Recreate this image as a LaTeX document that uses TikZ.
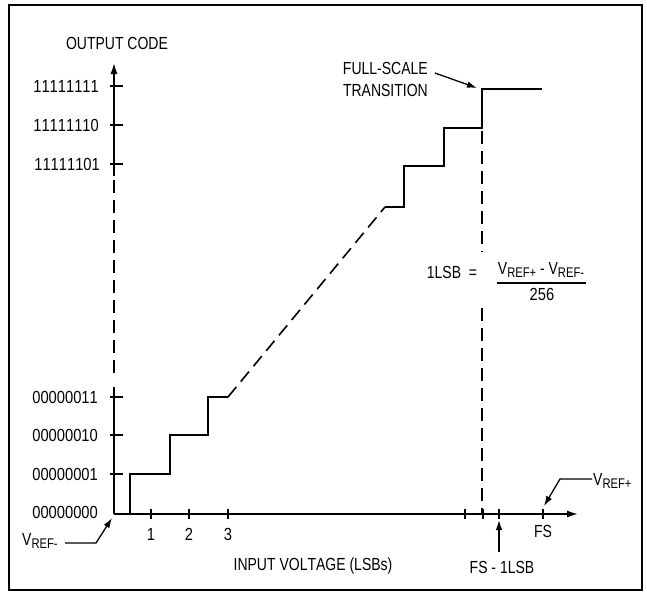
\documentclass[tikz,border=0pt]{standalone}
\usepackage{fontspec}
\setmainfont[FakeStretch=0.8,Kerning=Off]{Liberation Sans}
\newfontfamily\digfont[FakeStretch=0.84,Kerning=Off]{Liberation Sans}
\usetikzlibrary{arrows.meta}
\newcommand{\vsub}[1]{V\raisebox{-0.3ex}{\fontsize{14}{14}\selectfont REF#1}}
\begin{document}
\begin{tikzpicture}[x=1pt,y=-1pt,
  lbl/.style={inner sep=0pt, font=\fontsize{17.5}{21}\selectfont},
  dlbl/.style={inner sep=0pt, font=\digfont\fontsize{17.5}{21}\selectfont},
  ln/.style={line width=1.6pt},
  dsh/.style={line width=1.6pt, dash pattern=on 13pt off 7pt},
  tip/.style={-{Latex[length=11pt,width=7pt]}},
  arr/.style={line width=1.3pt, -{Latex[length=10pt,width=6.5pt]}}]
\useasboundingbox (0,0) rectangle (647,592);
\draw[line width=2pt] (9,5) rectangle (642,590);

% axes
\coordinate (O) at (114,514);
\coordinate (ytop) at (114,63);
\coordinate (xend) at (578,514);
\draw[ln] (O) -- (114,387);
\draw[dsh] (114,373) -- (114,175);
\draw[ln,tip] (114,176) -- (ytop);
\draw[ln,tip] (O) -- (xend);

% ticks
\foreach \y in {86,125,164,397,435,474} \draw[ln] (110,\y) -- (123,\y);
\foreach \x in {151,189,228,465,483,499,543} \draw[ln] (\x,509) -- (\x,519);

% staircase
\draw[ln] (130,514) -- (130,474) -- (170,474) -- (170,435) -- (208,435) -- (208,397) -- (228,397);
\draw[dsh] (228,397) -- (385,207);
\draw[ln] (385,207) -- (404,207) -- (404,166) -- (444,166) -- (444,128) -- (482,128) -- (482,89) -- (542,89);
\coordinate (fst) at (482,89);
\draw[dsh] (482,131) -- (482,252);
\draw[dsh] (482,308) -- (482,514);

% y labels
\node[lbl] (oc) at (117,43) {OUTPUT CODE};
\node[dlbl,anchor=east] (y8) at (99,86) {11111111};
\node[dlbl,anchor=east] (y7) at (99,125) {11111110};
\node[dlbl,anchor=east] (y6) at (100,164) {11111101};
\node[dlbl,anchor=east] (y3) at (98,397) {00000011};
\node[dlbl,anchor=east] (y2) at (98,435) {00000010};
\node[dlbl,anchor=east] (y1) at (98,474) {00000001};
\node[dlbl,anchor=east] (y0) at (98,512) {00000000};

% x labels
\node[dlbl] (x1) at (151,534) {1};
\node[dlbl] (x2) at (189,534) {2};
\node[dlbl] (x3) at (228,534) {3};
\node[lbl] (xfs) at (543,531) {FS};
\node[lbl] (xlab) at (313,566) {INPUT VOLTAGE (LSBs)};
\node[lbl] (fsm) at (502,567) {FS - 1LSB};
\coordinate (fsmtick) at (499,520);
\draw[arr] (499,552) -- (fsmtick);

% VREF-
\node[lbl,anchor=west] (vm) at (22,541) {\vsub{-}};
\coordinate (vmtip) at (112,518);
\draw[arr] (65,543) -- (96,543) -- (vmtip);

% VREF+
\node[lbl,anchor=west] (vp) at (593,481) {\vsub{+}};
\coordinate (vptip) at (544,506);
\draw[arr] (592,479) -- (560,479) -- (vptip);

% full scale transition
\node[lbl,align=right,anchor=east,font=\fontsize{17.5}{22}\selectfont] (fsl) at (428,79) {FULL-SCALE\\TRANSITION};
\draw[arr] (435,73) -- (477,88);

% formula
\node[lbl] (lsb) at (452,272) {1LSB\ \ =};
\node[lbl] (num) at (541,270) {\vsub{+} - \vsub{-}};
\draw[line width=1.2pt] (497,283) -- (586,283);
\node[dlbl] (den) at (542,294) {256};
\end{tikzpicture}
\end{document}
